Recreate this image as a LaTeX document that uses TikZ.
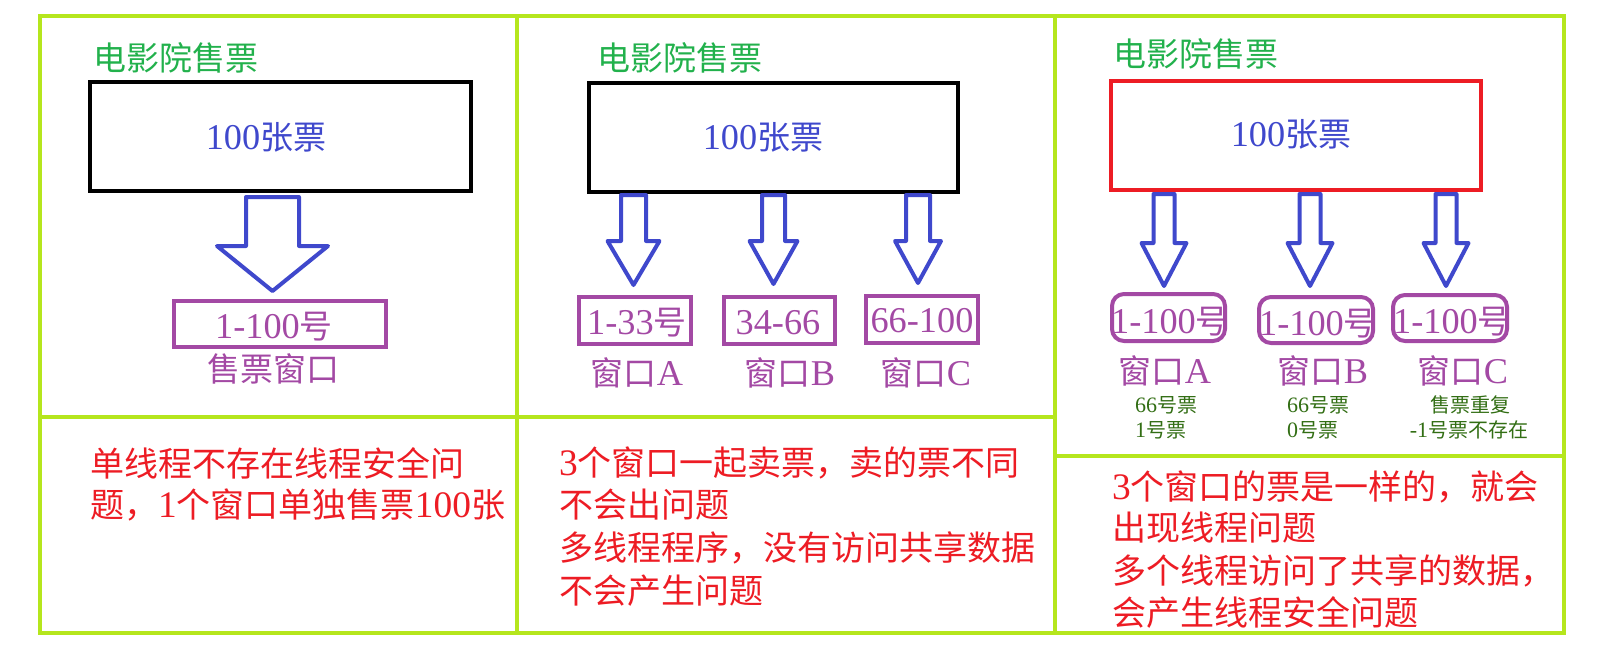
\documentclass[tikz,border=0pt]{standalone}
\usepackage{fontspec}
\setmainfont{Noto Sans CJK SC}
\newfontfamily\latn[Scale=1.1]{Liberation Serif}
\usetikzlibrary{calc}
\definecolor{limeg}{RGB}{181,230,29}
\definecolor{pgreen}{RGB}{34,177,76}
\definecolor{indig}{RGB}{63,72,204}
\definecolor{ppurple}{RGB}{163,73,164}
\definecolor{pred}{RGB}{237,28,36}
\definecolor{dgreen}{RGB}{50,110,20}
\newcommand\fsz[1]{\fontsize{#1}{#1}\selectfont}
\newcommand\blk[5]{%
  \draw[barrow] let \p1=(#1), \p2=(#2) in
  (\x1-#3,\y1) -- (\x1-#3,\y2+#5) -- (\x1-#4,\y2+#5) -- (\x1,\y2) --
  (\x1+#4,\y2+#5) -- (\x1+#3,\y2+#5) -- (\x1+#3,\y1) -- cycle;}
\tikzset{
  frame/.style={draw=limeg, line width=3.5pt},
  barrow/.style={draw=indig, line width=4pt, line join=round},
  tixbox/.style={draw, line width=4pt, inner sep=0},
  winbox/.style={draw=ppurple, line width=4pt, inner sep=0},
  title/.style={text=pgreen, font=\fsz{33}, inner sep=0, anchor=base west},
  big/.style={text=indig, font=\fsz{33}, inner sep=0, anchor=base},
  pur/.style={text=ppurple, font=\fsz{33}, inner sep=0, anchor=base},
  small/.style={text=dgreen, font=\fsz{20}, inner sep=0},
  note/.style={text=pred, font=\fsz{34}, inner sep=0, anchor=base west}
}
\begin{document}
\begin{tikzpicture}[x=1pt,y=-1pt]
\useasboundingbox (0,0) rectangle (1604,648);
% frame
\draw[frame] (40,16) rectangle (1564,633);
\draw[frame] (517,16) -- (517,633);
\draw[frame] (1055,16) -- (1055,633);
\draw[frame] (40,417) -- (1055,417);
\draw[frame] (1055,456) -- (1564,456);
% titles
\node[title] (ti1) at (93,70) {电影院售票};
\node[title] (ti2) at (597,70) {电影院售票};
\node[title] (ti3) at (1113,66) {电影院售票};
% ticket boxes
\node[tixbox, minimum width=381pt, minimum height=109pt] (b1) at (280.5,136.5) {};
\node[tixbox, minimum width=369pt, minimum height=109pt] (b2) at (773.5,137.5) {};
\node[tixbox, draw=pred, minimum width=370pt, minimum height=109pt] (b3) at (1296,135.5) {};
\node[big] (bt1) at (266,149) {{\latn 100}张票};
\node[big] (bt2) at (763,149) {{\latn 100}张票};
\node[big] (bt3) at (1291,146) {{\latn 100}张票};
% window boxes
\node[winbox, minimum width=212pt, minimum height=46pt] (w1) at (280,324) {};
\node[winbox, minimum width=112pt, minimum height=47pt] (w2a) at (635,320.5) {};
\node[winbox, minimum width=111pt, minimum height=47pt] (w2b) at (779.5,320.5) {};
\node[winbox, minimum width=112pt, minimum height=47pt] (w2c) at (922,319.5) {};
\node[winbox, rounded corners=12pt, minimum width=113pt, minimum height=47pt] (w3a) at (1168.5,317.5) {};
\node[winbox, rounded corners=12pt, minimum width=114pt, minimum height=46pt] (w3b) at (1316,320) {};
\node[winbox, rounded corners=12pt, minimum width=114pt, minimum height=46pt] (w3c) at (1450,318) {};
\node[pur] (wt1) at (274,338) {{\latn 1-100}号};
\node[pur] (wt2a) at (637,334) {{\latn 1-33}号};
\node[pur] (wt2b) at (778,334) {\latn 34-66};
\node[pur] (wt2c) at (922,332) {\latn 66-100};
\node[pur] (wt3a) at (1170,333) {{\latn 1-100}号};
\node[pur] (wt3b) at (1318,335) {{\latn 1-100}号};
\node[pur] (wt3c) at (1452,333) {{\latn 1-100}号};
% window labels
\node[pur] (l1) at (273,381) {售票窗口};
\node[pur] (l2a) at (637,385) {窗口{\latn A}};
\node[pur] (l2b) at (790,385) {窗口{\latn B}};
\node[pur] (l2c) at (926,385) {窗口{\latn C}};
\node[pur] (l3a) at (1165,383) {窗口{\latn A}};
\node[pur] (l3b) at (1323,383) {窗口{\latn B}};
\node[pur] (l3c) at (1463,383) {窗口{\latn C}};
% small notes
\node[small, anchor=base west] (s1) at (1135,412) {{\latn 66}号票};
\node[small, anchor=base west] (s2) at (1135,437) {{\latn 1}号票};
\node[small, anchor=base west] (s3) at (1287,412) {{\latn 66}号票};
\node[small, anchor=base west] (s4) at (1287,437) {{\latn 0}号票};
\node[small, anchor=base] (s5) at (1470,412) {售票重复};
\node[small, anchor=base] (s6) at (1469,437) {{\latn -1}号票不存在};
% arrows
\coordinate (a1s) at (272.5,197); \coordinate (a1e) at (272.5,291);
\coordinate (a2s) at (633.5,195); \coordinate (a2e) at (633.5,285);
\coordinate (a3s) at (773.5,195); \coordinate (a3e) at (773.5,284);
\coordinate (a4s) at (918,195);   \coordinate (a4e) at (918,283);
\coordinate (a5s) at (1164,194);  \coordinate (a5e) at (1164,286);
\coordinate (a6s) at (1310,194);  \coordinate (a6e) at (1310,286);
\coordinate (a7s) at (1446,194);  \coordinate (a7e) at (1446,286);
\blk{a1s}{a1e}{26.5pt}{55.5pt}{45pt}
\blk{a2s}{a2e}{12.5pt}{26pt}{44pt}
\blk{a3s}{a3e}{11.5pt}{24pt}{43pt}
\blk{a4s}{a4e}{12pt}{23pt}{42pt}
\blk{a5s}{a5e}{10.5pt}{22.5pt}{43pt}
\blk{a6s}{a6e}{10.5pt}{22.5pt}{43pt}
\blk{a7s}{a7e}{10.5pt}{22.5pt}{43pt}
% bottom notes
\node[note] (n1a) at (90,476) {单线程不存在线程安全问};
\node[note] (n1b) at (90,517) {题，{\latn 1}个窗口单独售票{\latn 100}张};
\node[note] (n2a) at (559,475) {{\latn 3}个窗口一起卖票，卖的票不同};
\node[note] (n2b) at (559,517) {不会出问题};
\node[note] (n2c) at (559,560) {多线程程序，没有访问共享数据};
\node[note] (n2d) at (559,603) {不会产生问题};
\node[note] (n3a) at (1112,499) {{\latn 3}个窗口的票是一样的，就会};
\node[note] (n3b) at (1112,540) {出现线程问题};
\node[note] (n3c) at (1112,583) {多个线程访问了共享的数据，};
\node[note] (n3d) at (1112,625) {会产生线程安全问题};
\end{tikzpicture}
\end{document}
